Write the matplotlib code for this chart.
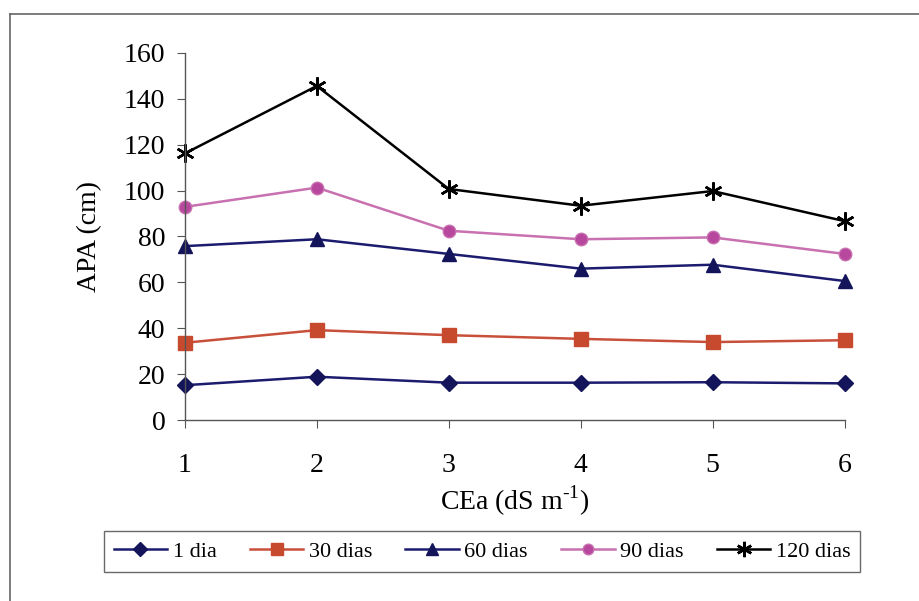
import matplotlib.pyplot as plt
from matplotlib.lines import Line2D

# CEa levels (dS m-1) and plant height APA (cm) at each sampling date
cea = [1, 2, 3, 4, 5, 6]
apa_1 = [15.2, 18.9, 16.3, 16.3, 16.5, 16.0]
apa_30 = [33.7, 39.2, 37.0, 35.4, 34.0, 34.8]
apa_60 = [75.8, 78.8, 72.4, 66.0, 67.7, 60.6]
apa_90 = [92.9, 101.3, 82.5, 78.8, 79.6, 72.4]
apa_120 = [116.2, 145.6, 100.7, 93.4, 99.8, 86.7]
labels = ['1 dia', '30 dias', '60 dias', '90 dias', '120 dias']

plt.rcParams['font.family'] = ['Liberation Serif', 'DejaVu Serif']
plt.rcParams['mathtext.fontset'] = 'custom'
plt.rcParams['mathtext.rm'] = 'Liberation Serif'

fig = plt.figure(figsize=(9.2, 6.01), dpi=100)
ax = fig.add_axes([0.201, 0.301, 0.717, 0.611])

kw = dict(lw=1.8, clip_on=False)
ax.plot(cea, apa_1, color='#1c1c6e', marker='D', ms=8, mfc='#14145a', mec='#14145a', label=labels[0], **kw)
ax.plot(cea, apa_30, color='#c8503a', marker='s', ms=10, mfc='#c84a2e', mec='#c84a2e', label=labels[1], **kw)
ax.plot(cea, apa_60, color='#1c1c6e', marker='^', ms=10, mfc='#14145a', mec='#14145a', label=labels[2], **kw)
ax.plot(cea, apa_90, color='#c870b0', marker='o', ms=9, mfc='#b8489e', mec='#c870b0', label=labels[3], **kw)
ax.plot(cea, apa_120, color='black', marker=(6, 2, 0), ms=13, mew=1.8, mec='black', label=labels[4], **kw)

ax.set_xlim(1, 6)
ax.set_ylim(0, 160)
ax.set_xticks(cea)
ax.set_yticks(range(0, 161, 20))
ax.spines['top'].set_visible(False)
ax.spines['right'].set_visible(False)
for s in ('left', 'bottom'):
    ax.spines[s].set_color('#555555')
    ax.spines[s].set_linewidth(1.0)
ax.tick_params(axis='y', direction='out', length=6, pad=8, labelsize=20, color='#555555')
ax.tick_params(axis='x', direction='out', length=6, pad=18, labelsize=20, color='#555555')

ax.set_ylabel('APA (cm)', fontsize=20, labelpad=16)
ax.set_xlabel('CEa (dS m$^{\\mathrm{\\text{-}1}}$)', fontsize=20, labelpad=4)

leg = fig.legend(loc='center', bbox_to_anchor=(0.524, 0.082), ncol=5, fontsize=16,
                 frameon=True, fancybox=False, edgecolor='#444444', numpoints=1,
                 markerscale=0.85, handlelength=2.4, columnspacing=1.5, handletextpad=0.25,
                 borderpad=0.45, borderaxespad=0)
leg.get_frame().set_linewidth(1.0)

# outer chart frame (top and left edges)
fig.add_artist(Line2D([10 / 920, 1.0], [1 - 14 / 601, 1 - 14 / 601], color='#666666', lw=1.2, transform=fig.transFigure))
fig.add_artist(Line2D([10 / 920, 10 / 920], [0.0, 1 - 14 / 601], color='#666666', lw=1.2, transform=fig.transFigure))

fig.savefig('out.png', dpi=100)
